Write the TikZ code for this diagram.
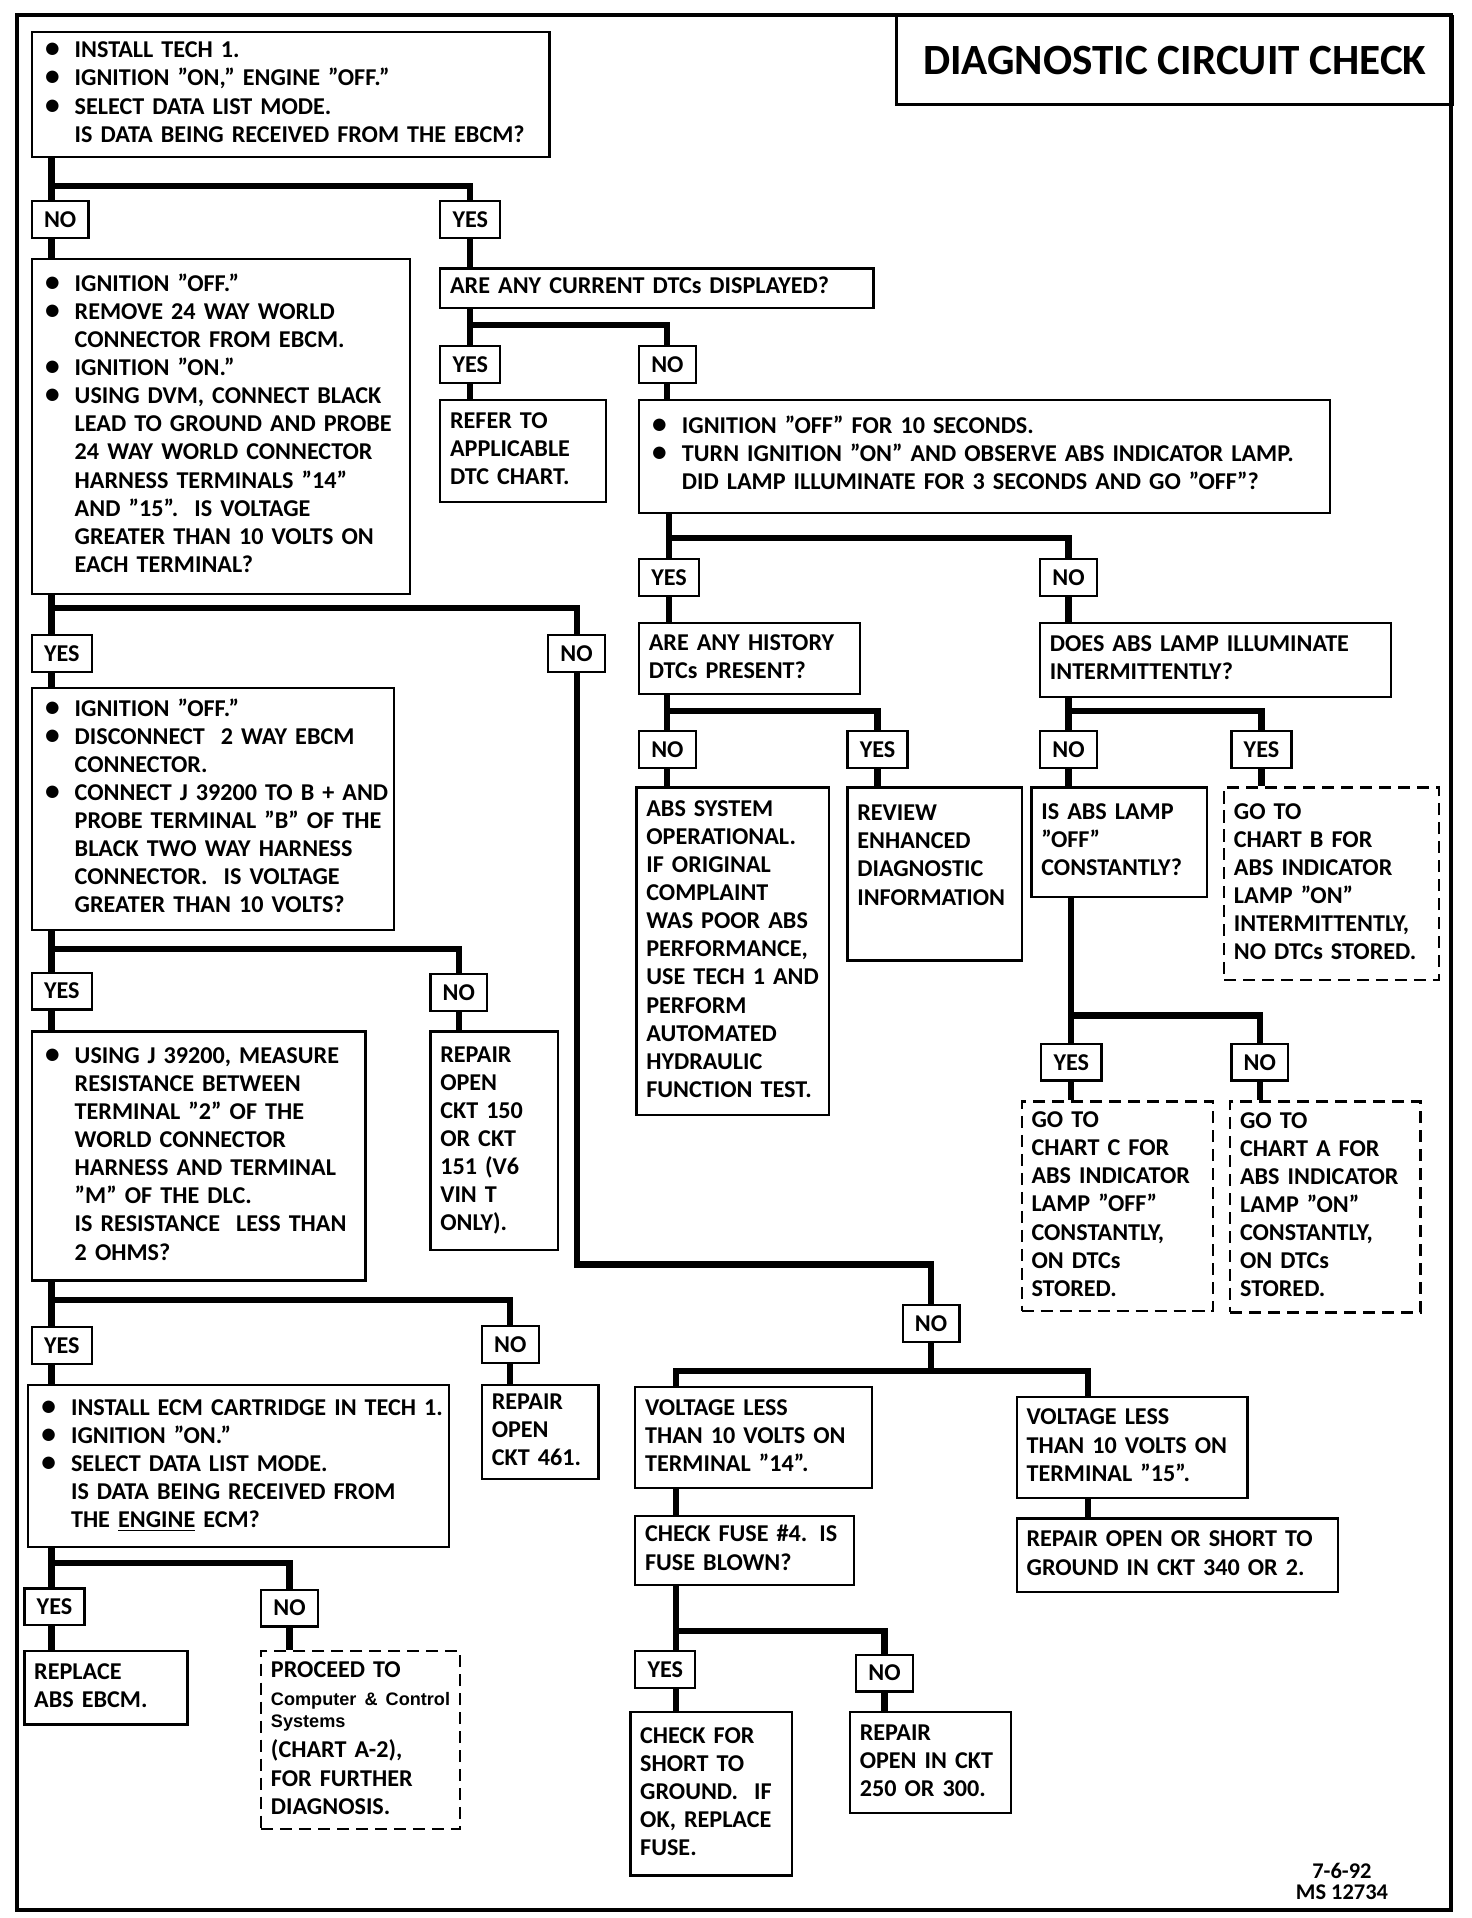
\documentclass[tikz,border=0pt]{standalone}
\usepackage{fontspec}
\setmainfont{Carlito}
\newfontfamily\helv{Liberation Sans}
\usepackage{tikz}

% lines of a box, bullet and hanging indent
\newcommand{\lns}[1]{\begin{tabular}{@{}l@{}}#1\end{tabular}}
\newcommand{\bul}{\makebox[0.675cm][l]{\hspace{0.07cm}{\fontsize{17}{16}\selectfont\textbullet}}}
\newcommand{\indt}{\hspace*{0.675cm}}

\tikzset{
  box/.style={draw, line width=1.3pt, anchor=north west, align=left, inner xsep=0.2cm, inner ysep=0pt},
  dbox/.style={box, dash pattern=on 7pt off 4pt},
  ans/.style={draw, line width=1.3pt, anchor=north west, inner xsep=0.25cm, inner ysep=0pt, minimum height=0.75cm},
  link/.style={line width=3.6pt},
}

\begin{document}
\begin{tikzpicture}[x=0.025cm, y=-0.025cm, font=\bfseries\fontsize{14}{16.3}\selectfont]
    \useasboundingbox (0,0) rectangle (1200,1563.6);
    \draw[line width=2.4pt] (14,12) rectangle (1183,1557);
    \node[draw, line width=1.6pt, anchor=north west, minimum width=11.325cm, minimum height=1.8cm,
      font=\bfseries\fontsize{25}{30}\selectfont] (title) at (730,12) {DIAGNOSTIC CIRCUIT CHECK};

    \coordinate (lx) at (42,0);
    \coordinate (cN) at (551,0);
    \coordinate (cP) at (887,0);

    % boxes
    \node[box, text width=10.15cm, minimum height=2.55cm] (A) at (25,25) {\lns{%
      \bul INSTALL TECH 1.\\
      \bul IGNITION ''ON,'' ENGINE ''OFF.''\\
      \bul SELECT DATA LIST MODE.\\
      \indt IS DATA BEING RECEIVED FROM THE EBCM?}};
    \node[box, text width=7.3cm, minimum height=6.825cm] (B) at (25,210) {\lns{%
      \bul IGNITION ''OFF.''\\
      \bul REMOVE 24 WAY WORLD\\
      \indt CONNECTOR FROM EBCM.\\
      \bul IGNITION ''ON.''\\
      \bul USING DVM, CONNECT BLACK\\
      \indt LEAD TO GROUND AND PROBE\\
      \indt 24 WAY WORLD CONNECTOR\\
      \indt HARNESS TERMINALS ''14''\\
      \indt AND ''15''.\ \ IS VOLTAGE\\
      \indt GREATER THAN 10 VOLTS ON\\
      \indt EACH TERMINAL?}};
    \node[box, text width=8.425cm, minimum height=0.8cm] (C) at (358,218) {\lns{ARE ANY CURRENT DTCs DISPLAYED?}};
    \node[box, text width=2.975cm, minimum height=2.075cm] (D) at (358,325) {\lns{REFER TO\\APPLICABLE\\DTC CHART.}};
    \node[box, text width=13.675cm, minimum height=2.3cm] (E) at (520,325) {\lns{%
      \bul IGNITION ''OFF'' FOR 10 SECONDS.\\
      \bul TURN IGNITION ''ON'' AND OBSERVE ABS INDICATOR LAMP.\\
      \indt DID LAMP ILLUMINATE FOR 3 SECONDS AND GO ''OFF''?}};
    \node[box, text width=4.1cm, minimum height=1.45cm] (F) at (520,507) {\lns{ARE ANY HISTORY\\DTCs PRESENT?}};
    \node[box, text width=6.75cm, minimum height=1.5cm] (G) at (847,507) {\lns{DOES ABS LAMP ILLUMINATE\\INTERMITTENTLY?}};
    \node[box, text width=3.525cm, minimum height=6.675cm] (H) at (518,641) {\lns{%
      ABS SYSTEM\\OPERATIONAL.\\IF ORIGINAL\\COMPLAINT\\WAS POOR ABS\\PERFORMANCE,\\
      USE TECH 1 AND\\PERFORM\\AUTOMATED\\HYDRAULIC\\FUNCTION TEST.}};
    \node[box, text width=3.15cm, minimum height=3.525cm] (I) at (690,641) {\lns{%
      REVIEW\\ENHANCED\\DIAGNOSTIC\\INFORMATION\\ \mbox{}\\[3pt]}};
    \node[box, text width=3.175cm, minimum height=2.225cm] (J) at (840,641) {\lns{IS ABS LAMP\\''OFF''\\CONSTANTLY?}};
    \node[dbox, text width=3.975cm, minimum height=3.925cm] (K) at (997,641) {\lns{%
      GO TO\\CHART B FOR\\ABS INDICATOR\\LAMP ''ON''\\INTERMITTENTLY,\\NO DTCs STORED.}};
    \node[dbox, text width=3.5cm, minimum height=4.275cm] (L) at (832,897) {\lns{%
      GO TO\\CHART C FOR\\ABS INDICATOR\\LAMP ''OFF''\\CONSTANTLY,\\ON DTCs\\STORED.}};
    \node[dbox, text width=3.475cm, minimum height=4.3cm] (M) at (1002,897) {\lns{%
      GO TO\\CHART A FOR\\ABS INDICATOR\\LAMP ''ON''\\CONSTANTLY,\\ON DTCs\\STORED.}};
    \node[box, text width=6.975cm, minimum height=4.925cm] (T) at (25,560) {\lns{%
      \bul IGNITION ''OFF.''\\
      \bul DISCONNECT\ \ 2 WAY EBCM\\
      \indt CONNECTOR.\\
      \bul CONNECT J 39200 TO B + AND\\
      \indt PROBE TERMINAL ''B'' OF THE\\
      \indt BLACK TWO WAY HARNESS\\
      \indt CONNECTOR.\ \ IS VOLTAGE\\
      \indt GREATER THAN 10 VOLTS?}};
    \node[box, text width=6.4cm, minimum height=5.075cm] (U) at (25,840) {\lns{%
      \bul USING J 39200, MEASURE\\
      \indt RESISTANCE BETWEEN\\
      \indt TERMINAL ''2'' OF THE\\
      \indt WORLD CONNECTOR\\
      \indt HARNESS AND TERMINAL\\
      \indt ''M'' OF THE DLC.\\
      \indt IS RESISTANCE\ \ LESS THAN\\
      \indt 2 OHMS?}};
    \node[box, text width=2.2cm, minimum height=4.45cm] (V) at (350,840) {\lns{%
      REPAIR\\OPEN\\CKT 150\\OR CKT\\151 (V6\\VIN T\\ONLY).}};
    \node[box, text width=8.175cm, minimum height=3.3cm] (W) at (22,1128) {\lns{%
      \bul INSTALL ECM CARTRIDGE IN TECH 1.\\
      \bul IGNITION ''ON.''\\
      \bul SELECT DATA LIST MODE.\\
      \indt IS DATA BEING RECEIVED FROM\\
      \indt THE \underline{ENGINE} ECM?}};
    \node[box, text width=1.975cm, minimum height=1.925cm] (X) at (392,1128) {\lns{REPAIR\\OPEN\\CKT 461.}};
    \node[box, text width=2.925cm, minimum height=1.5cm] (Y) at (19,1345) {\lns{REPLACE\\ABS EBCM.}};
    \node[dbox, text width=3.65cm, minimum height=3.625cm] (Z) at (212,1345) {\lns{%
      PROCEED TO\\
      {\helv\fontsize{10.5}{12}\selectfont Computer \& Control}\\[-3.5pt]
      {\helv\fontsize{10.5}{12}\selectfont Systems}\\[1.5pt]
      (CHART A-2),\\FOR FURTHER\\DIAGNOSIS.}};
    \node[box, text width=4.425cm, minimum height=2.05cm] (N) at (517,1130) {\lns{VOLTAGE LESS\\THAN 10 VOLTS ON\\TERMINAL ''14''.}};
    \node[box, text width=4.05cm, minimum height=1.4cm] (O) at (517,1235) {\lns{CHECK FUSE \#4. IS\\FUSE BLOWN?}};
    \node[box, text width=4.3cm, minimum height=2.05cm] (P) at (828,1138) {\lns{VOLTAGE LESS\\THAN 10 VOLTS ON\\TERMINAL ''15''.}};
    \node[box, text width=6.15cm, minimum height=1.5cm] (Q) at (828,1237) {\lns{REPAIR OPEN OR SHORT TO\\GROUND IN CKT 340 OR 2.}};
    \node[box, text width=2.9cm, minimum height=3.325cm] (R) at (513,1395) {\lns{CHECK FOR\\SHORT TO\\GROUND.\ \ IF\\OK, REPLACE\\FUSE.}};
    \node[box, text width=2.875cm, minimum height=2.05cm] (S) at (692,1395) {\lns{REPAIR\\OPEN IN CKT\\250 OR 300.}};

    % yes / no
    \node[ans] (nA) at (25,163) {NO};
    \node[ans] (yA) at (358,163) {YES};
    \node[ans] (yC) at (358,281) {YES};
    \node[ans] (nC) at (520,281) {NO};
    \node[ans] (yE) at (520,455) {YES};
    \node[ans] (nE) at (847,455) {NO};
    \node[ans] (nF) at (520,595) {NO};
    \node[ans] (yF) at (690,595) {YES};
    \node[ans] (nG) at (847,595) {NO};
    \node[ans] (yG) at (1003,595) {YES};
    \node[ans] (yJ) at (848,850) {YES};
    \node[ans] (nJ) at (1003,850) {NO};
    \node[ans] (yB) at (25,517) {YES};
    \node[ans] (nB) at (446,517) {NO};
    \node[ans] (yT) at (25,792) {YES};
    \node[ans] (nT) at (350,793) {NO};
    \node[ans] (yU) at (25,1081) {YES};
    \node[ans] (nU) at (392,1080) {NO};
    \node[ans] (yW) at (19,1294) {YES};
    \node[ans] (nW) at (212,1295) {NO};
    \node[ans] (nV) at (735,1063) {NO};
    \node[ans] (yO) at (517,1345) {YES};
    \node[ans] (nO) at (697,1348) {NO};

    \node[font=\bfseries\fontsize{13}{12}\selectfont, align=center] (ms) at (1094,1534) {7-6-92\\MS 12734};

    % links
    \draw[link] (A.south -| lx) -- (nA.north -| lx);
    \draw[link] (A.south -| lx) ++(0,23) -| (yA);
    \draw[link] (nA.south -| lx) -- (B.north -| lx);
    \draw[link] (yA) -- (yA |- C.north);

    \draw[link] (C.south -| yC) -- (yC);
    \draw[link] (C.south -| yC) ++(0,13) -| (nC);
    \draw[link] (yC) -- (yC |- D.north);
    \draw[link] (nC) -- (nC |- E.north);

    \draw[link] (E.south -| yE) -- (yE);
    \draw[link] (E.south -| yE) ++(0,20) -| (nE);
    \draw[link] (yE) -- (yE |- F.north);
    \draw[link] (nE) -- (nE |- G.north);

    \draw[link] (F.south -| nF) -- (nF);
    \draw[link] (F.south -| nF) ++(0,13) -| (yF);
    \draw[link] (nF) -- (nF |- H.north);
    \draw[link] (yF) -- (yF |- I.north);

    \draw[link] (G.south -| nG) -- (nG);
    \draw[link] (G.south -| nG) ++(0,11) -| (yG);
    \draw[link] (nG) -- (nG |- J.north);
    \draw[link] (yG) -- (yG |- K.north);

    \draw[link] (J.south -| yJ) -- (yJ);
    \draw[link] (J.south -| yJ) ++(0,96) -| (nJ);
    \draw[link] (yJ) -- (yJ |- L.north);
    \draw[link] (nJ) -- (nJ |- M.north);

    \draw[link] (B.south -| lx) -- (yB.north -| lx);
    \draw[link] (B.south -| lx) ++(0,11) -| (nB);
    \draw[link] (yB.south -| lx) -- (T.north -| lx);
    \draw[link] (nB.south) -- ++(0,482) -| (nV);

    \draw[link] (T.south -| lx) -- (yT.north -| lx);
    \draw[link] (T.south -| lx) ++(0,15) -| (nT);
    \draw[link] (yT.south -| lx) -- (U.north -| lx);
    \draw[link] (nT) -- (nT |- V.north);

    \draw[link] (U.south -| lx) -- (yU.north -| lx);
    \draw[link] (U.south -| lx) ++(0,15) -| (nU);
    \draw[link] (yU.south -| lx) -- (W.north -| lx);
    \draw[link] (nU) -- (nU |- X.north);

    \draw[link] (W.south -| lx) -- (yW.north -| lx);
    \draw[link] (W.south -| lx) ++(0,12) -| (nW);
    \draw[link] (yW.south -| lx) -- (Y.north -| lx);
    \draw[link] (nW) -- (nW |- Z.north);

    \draw[link] (nV.south) -- ++(0,23) coordinate (jV);
    \draw[link] (N.north -| cN) |- (jV -| cP) -- (P.north -| cP);
    \draw[link] (N.south -| cN) -- (O.north -| cN);
    \draw[link] (P.south -| cP) -- (Q.north -| cP);

    \draw[link] (O.south -| cN) -- (yO.north -| cN);
    \draw[link] (O.south -| cN) ++(0,37) -| (nO);
    \draw[link] (yO.south -| cN) -- (R.north -| cN);
    \draw[link] (nO) -- (nO |- S.north);
\end{tikzpicture}
\end{document}
